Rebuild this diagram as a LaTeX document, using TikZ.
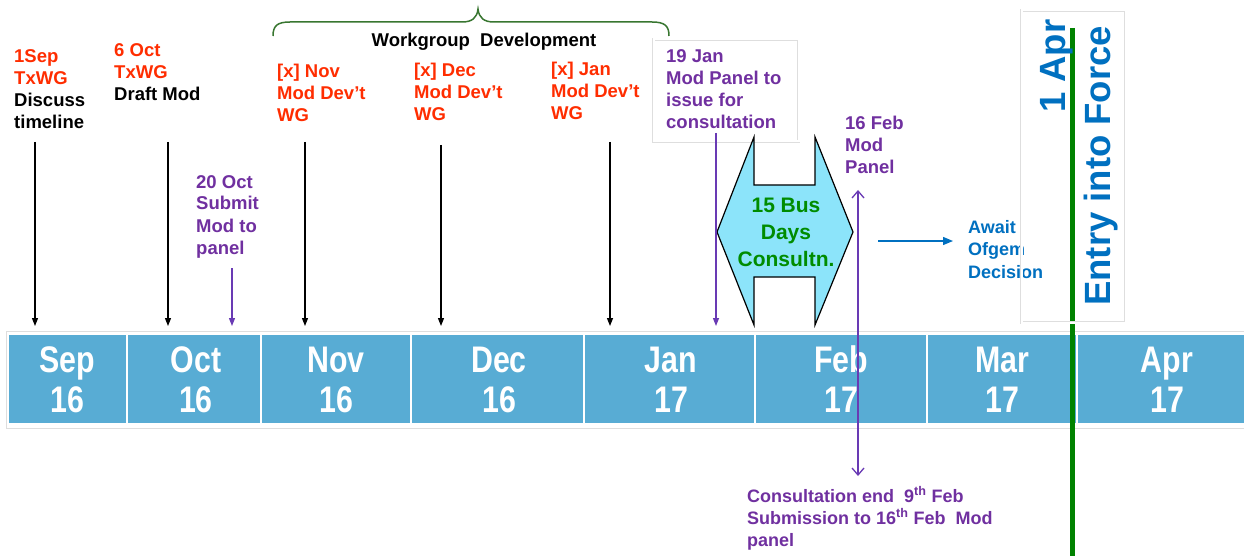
\documentclass[tikz,border=0pt]{standalone}
\usepackage{fontspec}
\setmainfont{Liberation Sans}
\newfontfamily\narrowfont[FakeStretch=0.82]{Liberation Sans}
\usetikzlibrary{arrows.meta}
\definecolor{barblue}{RGB}{88,172,212}
\definecolor{hexcyan}{RGB}{140,228,250}
\definecolor{tred}{RGB}{255,45,0}
\definecolor{tpurple}{RGB}{112,48,160}
\definecolor{lpurple}{RGB}{105,58,180}
\definecolor{tblue}{RGB}{0,112,192}
\definecolor{tgreen}{RGB}{0,140,0}
\definecolor{lgreen}{RGB}{0,130,0}
\definecolor{braceg}{RGB}{56,118,48}
\definecolor{boxgray}{RGB}{222,222,222}
\begin{document}
\begin{tikzpicture}[x=1pt,y=-1pt,
  lbl/.style={anchor=base west, inner sep=0pt, align=left, font=\bfseries\fontsize{18.5}{22}\selectfont},
  month/.style={anchor=base, inner sep=0pt, align=center, text=white, font=\narrowfont\bfseries\fontsize{37}{40}\selectfont},
  cell/.style={fill=barblue, draw=white, line width=2pt},
  blk/.style={draw=black, line width=1.3pt, -{Triangle[length=8pt,width=6pt]}},
  pur/.style={draw=lpurple, line width=1.3pt, -{Triangle[length=8pt,width=6pt]}},
  dblpur/.style={draw=lpurple, line width=1.3pt, {Straight Barb[length=7pt,width=12pt]}-{Straight Barb[length=7pt,width=12pt]}},
  bluearr/.style={draw=tblue, line width=1.3pt, -{Triangle[length=10pt,width=8pt]}},
  grayframe/.style={draw=boxgray, line width=0.8pt, double=white, double distance=2pt},
  rot/.style={rotate=90, anchor=base west, inner sep=0pt, text=tblue, font=\bfseries\fontsize{36.5}{40}\selectfont}
]
\useasboundingbox (0,0) rectangle (1244,556);
\fill[white] (0,0) rectangle (1244,556);

% timeline bar
\draw[boxgray, line width=0.8pt] (6,331) rectangle (1250,428);
\path[cell] (8,334) rectangle (127,424);
\path[cell] (127,334) rectangle (261,424);
\path[cell] (261,334) rectangle (411,424);
\path[cell] (411,334) rectangle (584,424);
\path[cell] (584,334) rectangle (755,424);
\path[cell] (755,334) rectangle (927,424);
\path[cell] (927,334) rectangle (1077,424);
\path[cell] (1077,334) rectangle (1256,424);
\node[month] (mSep) at (67.5,412) {Sep\\16};
\node[month] (mOct) at (196,412) {Oct\\16};
\node[month] (mNov) at (336,412) {Nov\\16};
\node[month] (mDec) at (499,412) {Dec\\16};
\node[month] (mJan) at (671,412) {Jan\\17};
\node[month] (mFeb) at (841,412) {Feb\\17};
\node[month] (mMar) at (1002,412) {Mar\\17};
\node[month] (mApr) at (1167,412) {Apr\\17};

% brace
\draw[braceg, line width=1.5pt] (273,36) .. controls (273,26) and (277,22) .. (290,22) -- (462,22)
  .. controls (472,22) and (477,18) .. (478,9) .. controls (479,18) and (484,22) .. (494,22) -- (652,22)
  .. controls (665,22) and (669,26) .. (669,36);
\node[lbl, anchor=base] (wg) at (484,47) {Workgroup\ \ Development};

% top labels (anchor = baseline of last line)
\node[lbl] (sep1) at (14,129) {\textcolor{tred}{1Sep}\\\textcolor{tred}{TxWG}\\Discuss\\timeline};
\node[lbl] (oct6) at (114,101) {\textcolor{tred}{6 Oct}\\\textcolor{tred}{TxWG}\\Draft Mod};
\node[lbl, text=tpurple] (oct20) at (196,254) {20 Oct\\Submit\\Mod to\\panel};
\node[lbl, text=tred] (nov) at (277,122) {[x] Nov\\Mod Dev’t\\WG};
\node[lbl, text=tred] (dec) at (414,121) {[x] Dec\\Mod Dev’t\\WG};
\node[lbl, text=tred] (jan) at (551,120) {[x] Jan\\Mod Dev’t\\WG};

% 19 Jan box
\path[grayframe] (653.5,39.5) rectangle (798.5,141.5);
\node[lbl, text=tpurple] (jan19) at (666,129) {19 Jan\\Mod Panel to\\issue for\\consultation};

% arrows down
\coordinate (s1) at (35,142);  \coordinate (e1) at (35,326);
\coordinate (s2) at (168,142); \coordinate (e2) at (168,326);
\coordinate (s3) at (305,142); \coordinate (e3) at (305,326);
\coordinate (s4) at (441,145); \coordinate (e4) at (441,326);
\coordinate (s5) at (610,142); \coordinate (e5) at (610,326);
\coordinate (s6) at (232,268); \coordinate (e6) at (232,326);
\coordinate (s7) at (716,133); \coordinate (e7) at (716,326);
\draw[blk] (s1) -- (e1);
\draw[blk] (s2) -- (e2);
\draw[blk] (s3) -- (e3);
\draw[blk] (s4) -- (e4);
\draw[blk] (s5) -- (e5);
\draw[pur] (s6) -- (e6);

% consultation shape
\draw[fill=hexcyan, draw=black, line width=1.2pt] (717,232) -- (754,137) -- (754,185) -- (815,185) -- (815,137)
  -- (853,232) -- (815,325) -- (815,277) -- (754,277) -- (754,325) -- cycle;
\draw[pur] (s7) -- (e7);
\node[anchor=base, inner sep=0pt, align=center, text=tgreen, font=\bfseries\fontsize{21}{27}\selectfont] (hex) at (786,266) {15 Bus\\Days\\Consultn.};

% 16 Feb
\node[lbl, text=tpurple] (feb16) at (845,174) {16 Feb\\Mod\\Panel};
\coordinate (dtop) at (858,190); \coordinate (dbot) at (858,476);
\draw[dblpur] (dtop) -- (dbot);

% await
\node[lbl, text=tblue, font=\bfseries\fontsize{18}{22.5}\selectfont] (await) at (968,278) {Await\\Ofgem\\Decision};
\coordinate (bs) at (878,241); \coordinate (be) at (953,241);
\draw[bluearr] (bs) -- (be);

% entry into force
\coordinate (gtop) at (1072,28); \coordinate (gbot) at (1072,556);
\draw[lgreen, line width=5pt] (gtop) -- (gbot);
\path[grayframe] (1021.5,10.5) rectangle (1125.5,322.5);
\node[rot] (apr1) at (1065,113) {1 Apr};
\node[rot] (eif) at (1110,306) {Entry into Force};

% bottom note
\node[lbl, text=tpurple, font=\bfseries\fontsize{18}{22}\selectfont] (note) at (747,546)
  {Consultation end\ \ 9\textsuperscript{th} Feb\\Submission to 16\textsuperscript{th} Feb\ \ Mod\\panel};
\end{tikzpicture}
\end{document}
